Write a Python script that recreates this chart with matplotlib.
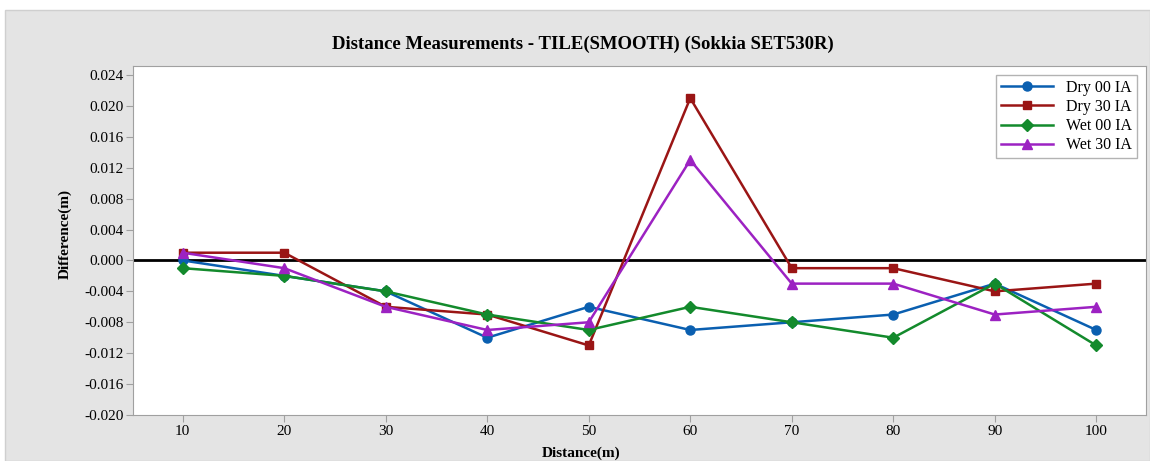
import numpy as np
import matplotlib
matplotlib.use("Agg")
import matplotlib.pyplot as plt
from matplotlib.patches import Rectangle

plt.rcParams['font.family'] = ['Liberation Serif', 'DejaVu Serif']

# data
distance = [10, 20, 30, 40, 50, 60, 70, 80, 90, 100]
dry00 = [0.000, -0.002, -0.004, -0.010, -0.006, -0.009, -0.008, -0.007, -0.003, -0.009]
dry30 = [0.001, 0.001, -0.006, -0.007, -0.011, 0.021, -0.001, -0.001, -0.004, -0.003]
wet00 = [-0.001, -0.002, -0.004, -0.007, -0.009, -0.006, -0.008, -0.010, -0.003, -0.011]
wet30 = [0.001, -0.001, -0.006, -0.009, -0.008, 0.013, -0.003, -0.003, -0.007, -0.006]
yticks = np.arange(-0.020, 0.0241, 0.004)

fig = plt.figure(figsize=(11.5, 4.61), dpi=100)
fig.patch.set_facecolor('white')
# gray panel behind the chart
fig.patches.append(Rectangle((5/1150, 0), 1 - 5/1150, 1 - 10/461, transform=fig.transFigure,
                             facecolor='#e4e4e4', edgecolor='#cfcfcf', lw=1, zorder=-10))

ax = fig.add_axes([133/1150, 46/461, 1013/1150, 349/461])
ax.set_facecolor('white')

ax.axhline(0, color='black', lw=2, zorder=1)
ax.plot(distance, dry00, color='#0a5fb0', marker='o', ms=6.5, lw=1.8, label='Dry 00 IA', zorder=3)
ax.plot(distance, dry30, color='#9a1515', marker='s', ms=6, lw=1.8, label='Dry 30 IA', zorder=3)
ax.plot(distance, wet00, color='#138a2c', marker='D', ms=6, lw=1.8, label='Wet 00 IA', zorder=3)
ax.plot(distance, wet30, color='#9c22c2', marker='^', ms=7, lw=1.8, label='Wet 30 IA', zorder=3)

ax.set_xlim(5.1, 104.9)
ax.set_ylim(-0.020, 0.02516)
ax.set_xticks(distance)
ax.set_yticks(yticks)
ax.set_yticklabels(['%.3f' % v for v in yticks])
ax.tick_params(direction='out', length=5, color='#a0a0a0', labelsize=11, pad=2)
for s in ax.spines.values():
    s.set_color('#a0a0a0')

fig.text(583/1150, 1 - 44/461, 'Distance Measurements - TILE(SMOOTH) (Sokkia SET530R)',
         ha='center', va='center', fontsize=13.5, fontweight='bold')
fig.text(581/1150, 1 - 453/461, 'Distance(m)', ha='center', va='center', fontsize=11, fontweight='bold')
fig.text(65/1150, 1 - 234/461, 'Difference(m)', ha='center', va='center', rotation=90,
         fontsize=11, fontweight='bold')

leg = ax.legend(loc='upper right', bbox_to_anchor=(0.991, 0.974), borderaxespad=0,
                fontsize=11.5, frameon=True, fancybox=False, handlelength=3.3,
                borderpad=0.3, labelspacing=0.2)
leg.get_frame().set_edgecolor('#a0a0a0')
leg.get_frame().set_linewidth(1)

fig.savefig('out.png', dpi=100)
